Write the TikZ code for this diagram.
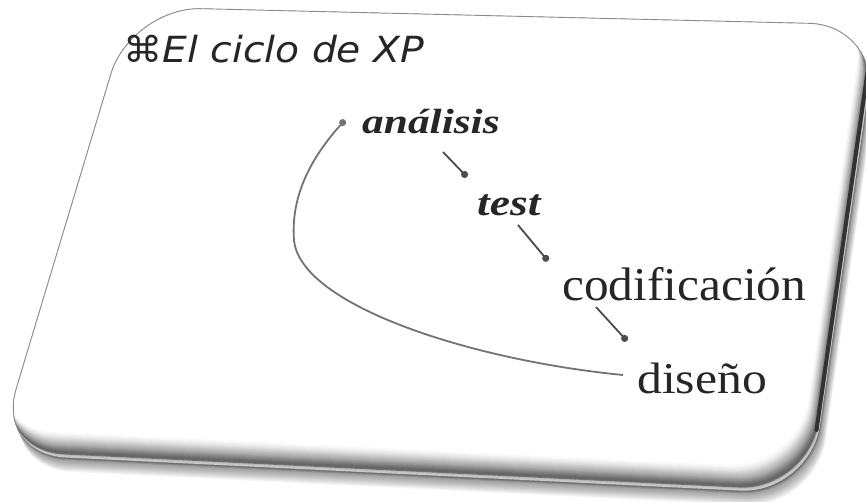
\documentclass[tikz,border=0pt]{standalone}
\usepackage{fontspec}
\usepackage{graphicx}
\usetikzlibrary{arrows.meta}
\newfontfamily\titlefont{DejaVu Sans}
\newfontfamily\lblfont{Liberation Serif}
\begin{document}
\begin{tikzpicture}[x=1pt,y=-1pt,
  conn/.style={draw=black!70, line width=1.8pt, -{Circle[length=7pt]}},
  loopline/.style={draw=black!55, line width=1.8pt, -{Circle[length=7pt]}},
  lbl/.style={inner sep=0pt, anchor=base west, text=black!85},
  card/.style={rounded corners=70pt}]
\useasboundingbox (0,0) rectangle (866,501);
\fill[white] (0,0) rectangle (866,501);
% soft drop shadow
\foreach \k in {1,...,14}{
  \fill[black, opacity=0.03, card, shift={(0.35*\k,0.9*\k)}] (500,15.9) -- (879,25) -- (811,496) -- (-4,456) -- (131,7) -- cycle;
}
% card with bevel
\begin{scope}
  \clip[card] (500,15.9) -- (879,25) -- (811,496) -- (-4,456) -- (131,7) -- cycle;
  \foreach \k/\c in {0/55,1/55,2/22,3/22,4/28,5/55,6/60,7/60,8/57,9/53,10/50,11/46,12/42,13/38,14/34,15/31,16/28,17/25,18/22,19/19,20/16,21/13,22/10,23/8,24/6,25/4,26/2,27/1,28/0}{
    \fill[black!\c, card, shift={(-0.45*\k,-\k)}] (500,15.9) -- (879,25) -- (811,496) -- (-4,456) -- (131,7) -- cycle;
  }
  \draw[black!80, line width=4pt, line cap=round, shift={(-4.5,0)}] (872,72) -- (821,430);
\end{scope}
\draw[black!45, line width=0.9pt, card] (500,15.9) -- (879,25) -- (811,496) -- (-4,456) -- (131,7) -- cycle;
% texts
\node[lbl] (title) at (123,62) {\titlefont\itshape\fontsize{36}{40}\selectfont\scalebox{1.09}[1]{⌘El ciclo de XP}};
\node[lbl] (an) at (362,133) {\lblfont\bfseries\itshape\fontsize{35}{40}\selectfont\scalebox{1.24}[1]{análisis}};
\node[lbl] (te) at (477,215) {\lblfont\bfseries\itshape\fontsize{37}{42}\selectfont\scalebox{1.23}[1]{test}};
\node[lbl] (co) at (562,300) {\lblfont\fontsize{47}{52}\selectfont\scalebox{1.05}[1]{codificación}};
\node[lbl] (di) at (637,393) {\lblfont\fontsize{44}{50}\selectfont\scalebox{1.13}[1]{diseño}};
% connector end points
\coordinate (a1) at (443,152);
\coordinate (t0) at (467,177);
\coordinate (t1) at (518,225);
\coordinate (c0) at (548,261);
\coordinate (c1) at (596,307);
\coordinate (d0) at (627,341);
\coordinate (d1) at (623,375);
\coordinate (a0) at (345,120);
\draw[conn] (a1) -- (t0);
\draw[conn] (t1) -- (c0);
\draw[conn] (c1) -- (d0);
\draw[loopline] (d1) .. controls (470,360) and (300,305) .. (294,240) .. controls (290,190) and (318,150) .. (a0);
\end{tikzpicture}
\end{document}
